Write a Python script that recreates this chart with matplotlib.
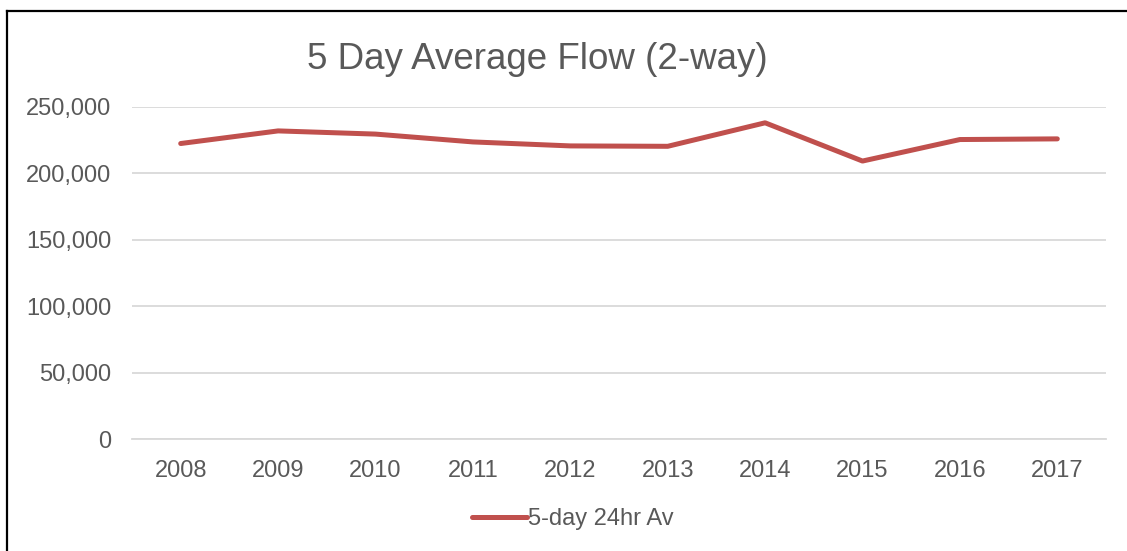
import matplotlib
matplotlib.use("Agg")
import matplotlib.pyplot as plt
from matplotlib.lines import Line2D
from matplotlib.ticker import FuncFormatter

years = ["2008", "2009", "2010", "2011", "2012", "2013", "2014", "2015", "2016", "2017"]
flow = [222500, 232000, 229600, 223700, 220700, 220400, 238100, 209300, 225500, 226000]
series_name = "5-day 24hr Av"
title = "5 Day Average Flow (2-way)"
yticks = [0, 50000, 100000, 150000, 200000, 250000]

plt.rcParams['font.family'] = ['Liberation Sans', 'DejaVu Sans']
W, H = 1127, 551
fig = plt.figure(figsize=(W / 100, H / 100), dpi=100)
fig.patch.set_facecolor('white')

left, right, top, bottom = 132, 1106, 107, 439
ax = fig.add_axes([left / W, 1 - bottom / H, (right - left) / W, (bottom - top) / H])

text_color = '#595959'
grid_color = '#D9D9D9'
line_color = '#C0504D'

x = list(range(len(years)))
ax.plot(x, flow, color=line_color, linewidth=3.6, solid_capstyle='round',
        solid_joinstyle='round', label=series_name, zorder=3)

ax.set_xlim(-0.5, len(years) - 0.5)
ax.set_ylim(0, 250000)
ax.set_yticks(yticks)
ax.yaxis.set_major_formatter(FuncFormatter(lambda v, p: f"{int(v):,}"))
ax.set_xticks(x)
ax.set_xticklabels(years)
ax.grid(axis='y', color=grid_color, linewidth=1.3)
ax.set_axisbelow(True)
for s in ['top', 'right', 'left']:
    ax.spines[s].set_visible(False)
ax.spines['bottom'].set_color(grid_color)
ax.spines['bottom'].set_linewidth(1.3)
ax.tick_params(axis='both', length=0, labelsize=17, colors=text_color)
ax.tick_params(axis='y', pad=15)
ax.tick_params(axis='x', pad=15)

fig.text(537 / W, 1 - 69 / H, title, ha='center', va='baseline',
         fontsize=26.5, color=text_color)

handle = Line2D([0], [0], color=line_color, linewidth=3.6, solid_capstyle='round')
leg = fig.legend([handle], [series_name], loc='center', bbox_to_anchor=(573 / W, 1 - 519 / H),
                 frameon=False, fontsize=17, handlelength=2.3, handletextpad=0.05,
                 labelcolor=text_color)

# outer border (top and left visible)
fig.add_artist(Line2D([6.5 / W, 6.5 / W], [0, 1 - 10.5 / H], color='black', linewidth=1.6,
                      transform=fig.transFigure))
fig.add_artist(Line2D([6.5 / W, 1], [1 - 10.5 / H, 1 - 10.5 / H], color='black', linewidth=1.6,
                      transform=fig.transFigure))

fig.savefig('out.png', dpi=100)
